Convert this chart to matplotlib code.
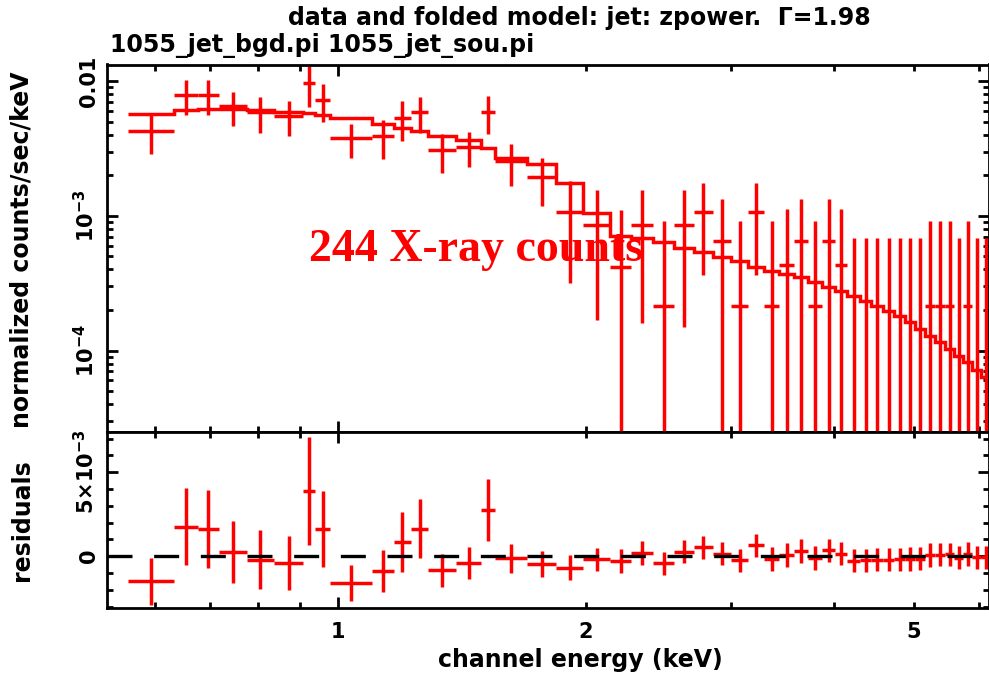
import matplotlib
matplotlib.use('Agg')
import matplotlib.pyplot as plt
import numpy as np
from matplotlib.ticker import FixedLocator, FixedFormatter, NullFormatter

plt.rcParams['mathtext.fontset'] = 'dejavusans'
plt.rcParams['mathtext.default'] = 'bf'

# channel bin edges (keV)
edges = [0.556, 0.632, 0.676, 0.717, 0.775, 0.836, 0.907, 0.938, 0.978, 1.100,
         1.169, 1.226, 1.286, 1.391, 1.491, 1.551, 1.696, 1.839, 1.983, 2.139,
         2.268, 2.412, 2.557, 2.704, 2.851, 2.998, 3.145, 3.289, 3.429, 3.576,
         3.719, 3.867, 4.010, 4.147, 4.300, 4.435, 4.586, 4.729, 4.877, 5.015,
         5.157, 5.303, 5.453, 5.592, 5.735, 5.881, 6.031, 6.184]

# source rate per bin, 1e-3 counts/sec/keV
rate = [4.27, 7.87, 7.87, 6.50, 5.90, 5.55, 9.66, 7.22, 3.77, 3.92,
        5.37, 5.91, 3.07, 3.25, 5.91, 2.55, 1.94, 1.067, 0.860, 0.42,
        0.860, 0.215, 0.860, 1.067, 0.646, 0.215, 1.067, 0.215, 0.429, 0.646,
        0.215, 0.646, 0.429, 0.0, 0.0, 0.0, 0.0, 0.0, 0.0, 0.0,
        0.215, 0.215, 0.215, 0.0, 0.215, 0.0, 0.0]

# 1 sigma errors, same units
rate_err = [1.40, 2.30, 2.30, 1.84, 1.77, 1.60, 3.24, 2.26, 1.08, 1.26,
            1.77, 1.77, 0.98, 0.95, 1.85, 0.87, 0.76, 0.75, 0.69, 0.69,
            0.70, 0.70, 0.71, 0.70, 0.70, 0.70, 0.70, 0.70, 0.70, 0.70,
            0.70, 0.70, 0.70, 0.69, 0.69, 0.69, 0.69, 0.69, 0.69, 0.69,
            0.70, 0.70, 0.70, 0.69, 0.70, 0.69, 0.69]

# folded zpower model, same units
model = [5.75, 6.12, 6.25, 6.25, 6.10, 5.95, 5.78, 5.62, 5.37, 4.79,
         4.53, 4.27, 3.92, 3.65, 3.18, 2.68, 2.41, 1.753, 1.05, 0.71,
         0.68, 0.638, 0.581, 0.538, 0.494, 0.461, 0.421, 0.393, 0.372, 0.351,
         0.322, 0.299, 0.275, 0.256, 0.235, 0.216, 0.198, 0.182, 0.162, 0.145,
         0.129, 0.115, 0.103, 0.0918, 0.0818, 0.0719, 0.0633]

e = np.array(edges)
lo, hi = e[:-1], e[1:]
mid = np.sqrt(lo * hi)
y = np.array(rate) * 1e-3
dy = np.array(rate_err) * 1e-3
m = np.array(model) * 1e-3
resid = y - m

RED = '#ff0000'
LW = 2.5
W, H = 989, 678

fig = plt.figure(figsize=(W / 100, H / 100), dpi=100)
ax1 = fig.add_axes([107 / W, 1 - 432 / H, 1 - 107 / W, 367.5 / H])
ax2 = fig.add_axes([107 / W, 1 - 608.3 / H, 1 - 107 / W, 176.3 / H], sharex=ax1)

# spectrum + model
ax1.set_xscale('log')
ax1.set_yscale('log')
pos = y > 0
ax1.hlines(y[pos], lo[pos], hi[pos], color=RED, lw=LW)
ax1.vlines(mid, np.maximum(y - dy, 1e-7), y + dy, color=RED, lw=LW)
ax1.stairs(m, e, color=RED, lw=LW, baseline=None)
ax1.set_ylim(2.486e-5, 1.331e-2)
ax1.set_xlim(0.5243, 6.166)

# residuals
ax2.hlines(resid, lo, hi, color=RED, lw=LW)
ax2.vlines(mid, resid - dy, resid + dy, color=RED, lw=LW)
ax2.axhline(0, color='black', lw=2.4, dashes=(7.5, 6.5))
ax2.set_ylim(-3.10e-3, 7.39e-3)

for ax in (ax1, ax2):
    for s in ax.spines.values():
        s.set_linewidth(2.0)
    ax.tick_params(which='both', direction='in', top=True, right=True, width=2.0,
                   labelsize=15)
    ax.tick_params(which='major', length=8)
    ax.tick_params(which='minor', length=4.3)
    ax.xaxis.set_major_locator(FixedLocator([1]))
    ax.xaxis.set_minor_locator(FixedLocator([0.6, 0.7, 0.8, 0.9, 2, 3, 4, 5, 6]))

ax1.tick_params(axis='x', which='both', labelbottom=False)
ax2.xaxis.set_major_formatter(FixedFormatter(['1']))
ax2.xaxis.set_minor_formatter(FixedFormatter(['', '', '', '', '2', '', '', '5', '']))
ax2.tick_params(axis='x', which='both', pad=10)

ax1.yaxis.set_major_locator(FixedLocator([1e-4, 1e-3, 1e-2]))
ax1.yaxis.set_major_formatter(FixedFormatter([r'$10^{-4}$', r'$10^{-3}$', '0.01']))
ax1.yaxis.set_minor_locator(FixedLocator([k * 10.0 ** p for p in (-5, -4, -3, -2) for k in range(2, 10)]))
ax1.yaxis.set_minor_formatter(NullFormatter())

ax2.yaxis.set_major_locator(FixedLocator([0, 5e-3]))
ax2.yaxis.set_major_formatter(FixedFormatter(['0', r'$5{\times}10^{-3}$']))
ax2.yaxis.set_minor_locator(FixedLocator(np.arange(-3, 8) * 1e-3))
ax2.yaxis.set_minor_formatter(NullFormatter())

for ax in (ax1, ax2):
    ax.tick_params(axis='y', which='major', pad=6)
    for t in ax.get_yticklabels():
        t.set_rotation(90)
        t.set_va('center')
    for t in ax.get_xticklabels() + ax.get_yticklabels() + ax.get_xticklabels(minor=True):
        t.set_fontweight('bold')

fs = 17
fig.text(579 / W, 1 - 18 / H, 'data and folded model: jet: zpower.  \u0393=1.98',
         ha='center', va='center', fontsize=fs, fontweight='bold')
fig.text(110 / W, 1 - 46 / H, '1055_jet_bgd.pi 1055_jet_sou.pi',
         ha='left', va='center', fontsize=fs, fontweight='bold')
fig.text(22 / W, 1 - 250 / H, 'normalized counts/sec/keV', rotation=90,
         ha='center', va='center', fontsize=fs, fontweight='bold')
fig.text(22 / W, 1 - 520 / H, 'residuals', rotation=90,
         ha='center', va='center', fontsize=fs, fontweight='bold')
fig.text(580 / W, 1 - 660 / H, 'channel energy (keV)',
         ha='center', va='center', fontsize=fs, fontweight='bold')
fig.text(476 / W, 1 - 250 / H, '244 X-ray counts', color=RED,
         ha='center', va='center', fontsize=33, fontweight='bold',
         family='Liberation Serif')

fig.savefig('out.png', dpi=100)
